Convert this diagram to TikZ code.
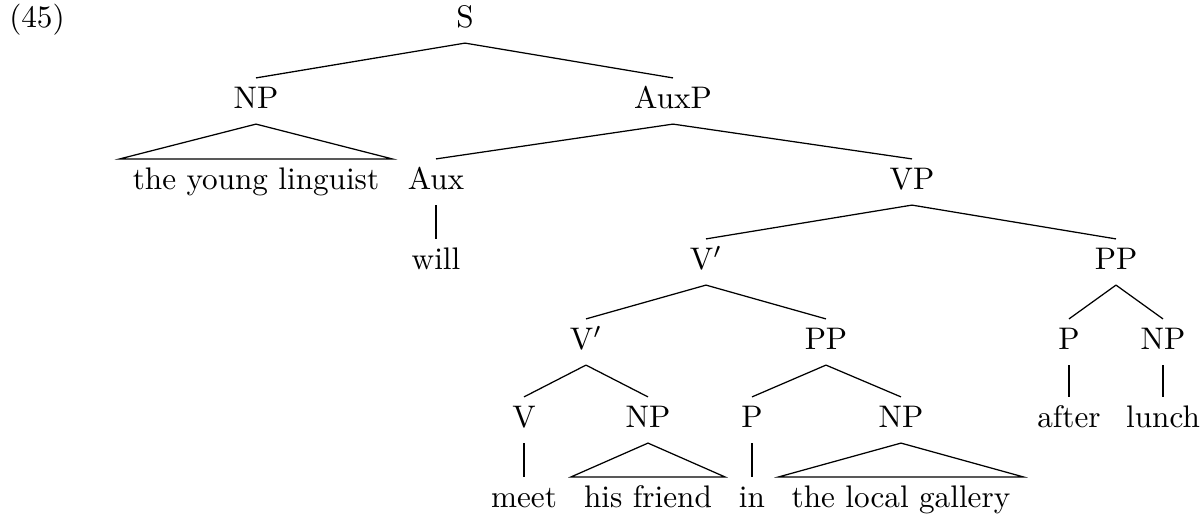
\documentclass[tikz,border=0pt]{standalone}
\usepackage{tikz}

\begin{document}
\begin{tikzpicture}[x=0.3205pt,y=-0.3205pt,
        lab/.style={inner xsep=4pt,inner ysep=2.7pt,text height=7pt,text depth=2pt}]
        \useasboundingbox (0,0) rectangle (1204,516);

        \node[lab] (ex) at (37,20) {(45)};
        \node[lab] (s) at (465,20) {S};

        \node[lab] (np) at (256,101) {NP};
        \node[lab] (auxp) at (673,101) {AuxP};

        \node[lab] (ling) at (256,182) {the young linguist};
        \node[lab] (aux) at (436,182) {Aux};
        \node[lab] (vp) at (912,182) {VP};

        \node[lab] (will) at (436,262) {will};
        \node[lab] (vbar) at (706,262) {V$'$};
        \node[lab] (pp) at (1116,262) {PP};

        \node[lab] (vbarb) at (586,342) {V$'$};
        \node[lab] (ppb) at (826,342) {PP};
        \node[lab] (pa) at (1069,342) {P};
        \node[lab] (npa) at (1163,342) {NP};

        \node[lab] (v) at (524,420) {V};
        \node[lab] (npb) at (648,420) {NP};
        \node[lab] (pb) at (752,420) {P};
        \node[lab] (npc) at (901,420) {NP};
        \node[lab] (after) at (1069,420) {after};
        \node[lab] (lunch) at (1163,420) {lunch};

        \node[lab] (meet) at (524,500) {meet};
        \node[lab] (friend) at (648,500) {his friend};
        \node[lab] (in) at (752,500) {in};
        \node[lab] (gallery) at (901,500) {the local gallery};

        % branches
        \draw (s.south) -- (np.north);
        \draw (s.south) -- (auxp.north);
        \draw (auxp.south) -- (aux.north);
        \draw (auxp.south) -- (vp.north);
        \draw (aux.south) -- (will.north);
        \draw (vp.south) -- (vbar.north);
        \draw (vp.south) -- (pp.north);
        \draw (vbar.south) -- (vbarb.north);
        \draw (vbar.south) -- (ppb.north);
        \draw (pp.south) -- (pa.north);
        \draw (pp.south) -- (npa.north);
        \draw (vbarb.south) -- (v.north);
        \draw (vbarb.south) -- (npb.north);
        \draw (ppb.south) -- (pb.north);
        \draw (ppb.south) -- (npc.north);
        \draw (pa.south) -- (after.north);
        \draw (npa.south) -- (lunch.north);
        \draw (v.south) -- (meet.north);
        \draw (pb.south) -- (in.north);

        % roofs
        \draw (np.south) -- (ling.north west) -- (ling.north east) -- cycle;
        \draw (npb.south) -- (friend.north west) -- (friend.north east) -- cycle;
        \draw (npc.south) -- (gallery.north west) -- (gallery.north east) -- cycle;
\end{tikzpicture}
\end{document}
